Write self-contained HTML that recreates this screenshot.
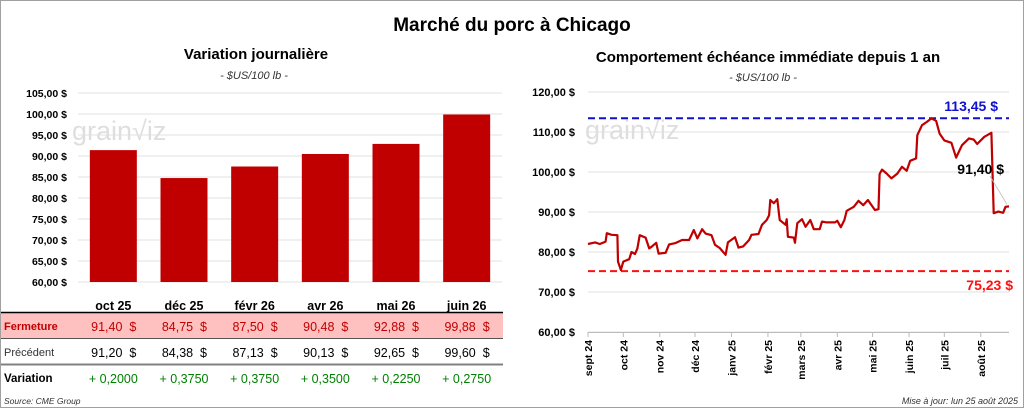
<!DOCTYPE html>
<html><head><meta charset="utf-8">
<style>
html,body{margin:0;padding:0;background:#fff;}
svg{display:block;font-family:"Liberation Sans",sans-serif;}
</style></head>
<body>
<svg id="chart" width="1024" height="409" viewBox="0 0 1024 409" xmlns="http://www.w3.org/2000/svg">
<rect x="0.5" y="0.5" width="1023" height="407" fill="#fff" stroke="#a0a0a0"/>
<text x="512" y="31" text-anchor="middle" font-size="19" font-weight="bold" fill="#000">Marché du porc à Chicago</text>
<text x="256" y="59" text-anchor="middle" font-size="15" font-weight="bold">Variation journalière</text>
<text x="254" y="79" text-anchor="middle" font-size="11" font-style="italic" fill="#333">- $US/100 lb -</text>
<text x="768" y="62" text-anchor="middle" font-size="15" font-weight="bold">Comportement échéance immédiate depuis 1 an</text>
<text x="763" y="81" text-anchor="middle" font-size="11" font-style="italic" fill="#333">- $US/100 lb -</text>
<g id="left"></g>
<g id="right"></g>
</svg>
<script>
const NS="http://www.w3.org/2000/svg";
function mk(tag,attrs,parent,txt){const e=document.createElementNS(NS,tag);for(const k in attrs)e.setAttribute(k,attrs[k]);if(txt!==undefined)e.textContent=txt;parent.appendChild(e);return e;}

// ---- Left chart data ----
const contracts=["oct 25","déc 25","févr 26","avr 26","mai 26","juin 26"];
const closeVals=[91.40,84.75,87.50,90.48,92.88,99.88];
const prevVals=[91.20,84.38,87.13,90.13,92.65,99.60];
const variations=["+ 0,2000","+ 0,3750","+ 0,3750","+ 0,3500","+ 0,2250","+ 0,2750"];
const leftTicks=[60,65,70,75,80,85,90,95,100,105];

// ---- Right chart data ----
const monthLabels=["sept 24","oct 24","nov 24","déc 24","janv 25","févr 25","mars 25","avr 25","mai 25","juin 25","juil 25","août 25"];
const monthDays=[0,30,61,91,122,153,181,212,242,273,303,334];
const rightTicks=[60,70,80,90,100,110,120];
const seriesDays=[0,6,10,15,16,20,25,25.5,28,30,35,37,40,42,44,49,52,54,58,60,66,69,74,80,86,90,93,97,100,105,108,112,117,119,125,128,132,137,139,145,148,152,154,155,158,161,163,168,169,170,175,176,178,182,185,189,192,197,199,203,210,212,215,218,220,226,230,234,238,244,247,248,250,254,258,263,267,271,274,279,280,284,288,292,296,299,303,309,313,318,324,328,331,337,343,345,349,353,355,358];
const seriesVals=[82.0,82.4,82.0,82.6,84.7,84.3,84.2,77.6,75.5,77.6,78.2,80.0,79.5,80.9,84.2,83.6,80.9,81.3,82.3,79.6,79.8,81.9,82.2,83.0,83.0,85.5,83.4,85.7,84.6,84.2,81.8,81.0,79.3,82.4,83.7,81.1,81.4,83.0,84.3,84.5,86.8,88.0,89.2,93.0,92.2,93.2,88.0,86.8,88.2,83.8,83.6,82.3,87.2,88.2,86.3,88.0,85.7,85.7,87.6,87.4,87.4,87.8,86.2,88.0,90.3,91.3,92.8,91.7,93.0,90.5,90.7,99.5,100.6,99.6,98.4,99.6,101.3,100.3,102.8,103.4,109.2,111.7,112.5,113.4,112.8,109.6,107.9,107.3,103.6,106.7,108.4,108.1,107.0,108.8,109.8,89.7,90.1,89.8,91.3,91.4];
const highVal=113.45, lowVal=75.23, lastVal=91.40;
const totalDays=358;

// ---- Left chart ----
const L=document.getElementById('left');
const lx0=78,lx1=502,ly=v=>282-(v-60)*(189/45);
const band=(lx1-lx0)/contracts.length;
leftTicks.forEach(t=>{
  const g=mk('line',{x1:lx0,x2:lx1,y1:ly(t),y2:ly(t),stroke:'#e2e2e2','stroke-width':1},L);
  
  
  const tx=mk('text',{x:67,y:ly(t)+4,'text-anchor':'end','font-size':10.5,'font-weight':'bold'},L,t.toFixed(2).replace('.',',')+' $');
  
  
});
mk('text',{x:72,y:140,'font-size':27,fill:'#dedede'},L,'grain\u221Aiz');
contracts.forEach((c,i)=>{
  const cx=lx0+band*(i+0.5);
  const b=mk('rect',{x:cx-23.5,y:ly(closeVals[i]),width:47,height:ly(60)-ly(closeVals[i]),fill:'#c00000'},L);
  
  
  const lb=mk('text',{x:cx,y:310,'text-anchor':'middle','font-size':12.5,'font-weight':'bold'},L,c);
  
  
});
// table
mk('rect',{x:1,y:313,width:502,height:25,fill:'#ffc0c0'},L);
mk('line',{x1:1,x2:503,y1:312.5,y2:312.5,stroke:'#000','stroke-width':1.5},L);
mk('line',{x1:1,x2:503,y1:338.5,y2:338.5,stroke:'#555','stroke-width':1},L);
mk('line',{x1:1,x2:503,y1:364.5,y2:364.5,stroke:'#808080','stroke-width':2},L);
const h1=mk('text',{x:4,y:330,'font-size':11,'font-weight':'bold',fill:'#c00000'},L,'Fermeture');


const h2=mk('text',{x:4,y:356,'font-size':11,fill:'#333'},L,'Précédent');


const h3=mk('text',{x:4,y:382,'font-size':11.5,'font-weight':'bold'},L,'Variation');


contracts.forEach((c,i)=>{
  const cx=lx0+band*(i+0.5);
  const a=mk('text',{x:cx+23,y:331,'text-anchor':'end','font-size':12.5,fill:'#c00000'},L,closeVals[i].toFixed(2).replace('.',',')+'  $');
  
  
  a.style.whiteSpace='pre';
  const b=mk('text',{x:cx+23,y:357,'text-anchor':'end','font-size':12.5,fill:'#000'},L,prevVals[i].toFixed(2).replace('.',',')+'  $');
  
  
  b.style.whiteSpace='pre';
  const v=mk('text',{x:cx,y:383,'text-anchor':'middle','font-size':12.5,fill:'#008000'},L,variations[i]);
  
  
});
mk('text',{x:4,y:404,'font-size':8.5,'font-style':'italic',fill:'#333'},L,'Source: CME Group');

// ---- Right chart ----
const R=document.getElementById('right');
const rx0=588,rx1=1009;
const rx=d=>rx0+d*(rx1-rx0)/totalDays;
const ry=v=>332-(v-60)*4;
rightTicks.forEach(t=>{
  const g=mk('line',{x1:rx0,x2:rx1,y1:ry(t),y2:ry(t),stroke:'#e2e2e2','stroke-width':1},R);
  
  
  const tx=mk('text',{x:575,y:ry(t)+4,'text-anchor':'end','font-size':11,'font-weight':'bold'},R,t.toFixed(2).replace('.',',')+' $');
  
  
});
mk('text',{x:585,y:139,'font-size':27,fill:'#dedede'},R,'grain\u221Aiz');
mk('line',{x1:rx0,x2:rx1,y1:332.5,y2:332.5,stroke:'#bbb'},R);
monthLabels.forEach((m,i)=>{
  const x=rx(monthDays[i]);
  mk('line',{x1:x,x2:x,y1:332,y2:337,stroke:'#bbb'},R);
  const t=mk('text',{x:0,y:0,'font-size':10.5,'font-weight':'bold','text-anchor':'end',transform:`translate(${x+4},340) rotate(-90)`},R,m);
  
  
});
const hl=mk('line',{x1:rx0,x2:rx1,y1:ry(highVal),y2:ry(highVal),stroke:'#1010d0','stroke-width':2,'stroke-dasharray':'7,4'},R);


const ll=mk('line',{x1:rx0,x2:rx1,y1:ry(lowVal),y2:ry(lowVal),stroke:'#ff1010','stroke-width':2,'stroke-dasharray':'7,4'},R);


const ht=mk('text',{x:998,y:ry(highVal)-7,'text-anchor':'end','font-size':14,'font-weight':'bold',fill:'#1010d0'},R,highVal.toFixed(2).replace('.',',')+' $');


const lt=mk('text',{x:1013,y:ry(lowVal)+19,'text-anchor':'end','font-size':14,'font-weight':'bold',fill:'#ff1010'},R,lowVal.toFixed(2).replace('.',',')+' $');


let d='';
seriesDays.forEach((dd,i)=>{d+=(i?'L':'M')+rx(dd).toFixed(1)+','+ry(seriesVals[i]).toFixed(1);});
const p=mk('path',{d:d,fill:'none',stroke:'#c00000','stroke-width':2.2,'stroke-linejoin':'round'},R);


const lastX=rx(seriesDays[seriesDays.length-1]);
mk('line',{x1:990,y1:176,x2:lastX-2,y2:ry(lastVal)-2,stroke:'#bbb','stroke-width':0.8},R);
const la=mk('text',{x:1004,y:174,'text-anchor':'end','font-size':14,'font-weight':'bold',fill:'#000'},R,lastVal.toFixed(2).replace('.',',')+' $');


mk('text',{x:1018,y:404,'text-anchor':'end','font-size':9,'font-style':'italic',fill:'#333'},R,'Mise à jour: lun 25 août 2025');
</script>
</body></html>
